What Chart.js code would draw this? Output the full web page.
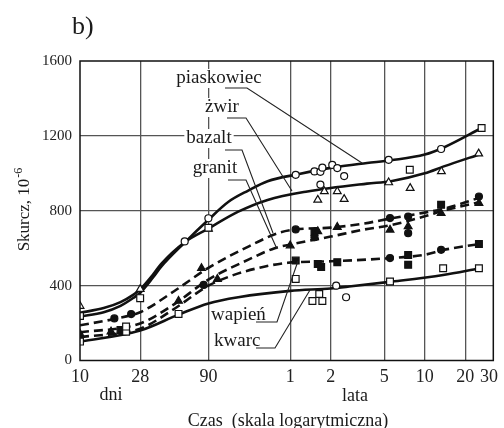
<!DOCTYPE html>
<html>
<head>
<meta charset="utf-8">
<script src="https://cdn.jsdelivr.net/npm/chart.js@4.4.1/dist/chart.umd.min.js"></script>
<style>
  html, body { margin: 0; padding: 0; background: #fff; }
  #wrap { width: 504px; height: 428px; }
</style>
</head>
<body>
<div id="wrap"><canvas id="wykres" width="504" height="428"></canvas></div>
<script>
// os x - czas w dniach (skala log), os y - skurcz w 10^-6
const tickDays = [10, 28, 90, 365, 730, 1825, 3650, 7300, 10950];
const tickLabels = ['10', '28', '90', '1', '2', '5', '10', '20', '30'];
const yTicks = [0, 400, 800, 1200, 1600];

// krzywe [dni, skurcz]
const piaskowiecLinia = [[10,235],[15,258],[20,292],[25,335],[28,362],[35,445],[40,500],[60,630],[90,752],[127,848],[178,908],[248,958],[417,995],[787,1033],[1360,1055],[2046,1070],[3650,1100],[5058,1138],[9660,1242]];
const zwirLinia = [[10,255],[15,280],[20,312],[25,352],[28,380],[35,460],[40,515],[60,632],[90,705],[150,795],[248,858],[490,903],[1360,945],[2046,958],[3650,1000],[5058,1037],[9660,1105]];
const bazaltLinia = [[10,188],[18,222],[28,258],[50,370],[90,495],[180,610],[300,682],[400,700],[730,710],[1300,732],[2000,758],[3650,790],[5000,810],[9200,868]];
const granitLinia = [[10,150],[28,198],[50,300],[90,432],[180,540],[280,600],[400,625],[730,662],[1300,700],[2000,722],[3650,770],[5000,800],[9200,845]];
const wapienLinia = [[10,125],[28,170],[50,275],[90,400],[133,452],[200,490],[350,522],[730,530],[1825,545],[3650,565],[5000,590],[9200,622]];
const kwarcLinia = [[10,100],[28,160],[54,245],[90,305],[150,338],[365,372],[730,385],[1000,395],[2000,420],[5000,457],[9200,492]];

// punkty pomiarowe wg rodzaju znacznika
const kolkaOtwarte = [[60,636],[90,760],[401,992],[553,1010],[612,1008],[633,1030],[612,940],[750,1045],[817,1028],[919,985],[802,400],[950,338],[1968,1072],[4830,1130]];
const kwadratyOtwarte = [[10,238],[10,101],[22,154],[22,181],[28,333],[54,249],[90,709],[401,436],[534,318],[633,318],[600,355],[2014,422],[2826,1019],[5000,493],[9226,493],[9660,1242]];
const trojkatyOtwarte = [[10,291],[28,381],[90,703],[585,858],[655,903],[817,903],[919,862],[1968,951],[2844,921],[4853,1010],[9183,1105]];
const kolkaPelne = [[18,225],[24,248],[83,404],[401,700],[553,659],[2014,761],[2014,547],[2748,769],[2748,680],[4830,591],[9226,876]];
const trojkatyPelne = [[10,142],[17,154],[54,318],[80,493],[105,435],[365,614],[585,690],[817,713],[2014,698],[2748,716],[4830,787],[9226,841]];
const kwadratyPelne = [[20,163],[401,534],[553,686],[585,516],[620,499],[817,525],[2748,564],[2748,511],[4830,832],[9226,622]];

const FONT = "'Liberation Serif', 'Times New Roman', serif";
Chart.defaults.font.family = FONT;

const toXY = arr => arr.map(p => ({ x: p[0], y: p[1] }));

function linia(dane, przerywana) {
    return {
        data: toXY(dane),
        showLine: true,
        borderColor: '#111',
        borderWidth: 2.6,
        borderDash: przerywana ? [9, 5] : [],
        pointRadius: 0,
        cubicInterpolationMode: 'monotone',
        fill: false,
        order: 2
    };
}

function znaczniki(dane, styl, pelny, r) {
    return {
        data: toXY(dane),
        showLine: false,
        pointStyle: styl,
        pointRadius: r,
        pointBackgroundColor: pelny ? '#111' : '#fff',
        pointBorderColor: '#111',
        pointBorderWidth: 1.2,
        order: 1
    };
}

//podpisy, ramka itd.
const napisy = {
    id: 'napisy',
    afterDraw(chart) {
        const c = chart.ctx;
        const a = chart.chartArea;
        c.save();
        c.strokeStyle = '#111';
        c.lineWidth = 1.5;
        c.strokeRect(a.left, a.top, a.right - a.left, a.bottom - a.top);

        c.fillStyle = '#1a1a1a';
        c.textBaseline = 'alphabetic';
        c.font = '26px ' + FONT;
        c.textAlign = 'left';
        c.fillText('b)', 72, 34);

        c.textAlign = 'center';
        c.font = '18px ' + FONT;
        c.fillText('dni', 111, 400);
        c.fillText('lata', 355, 401);
        c.fillText('Czas  (skala logarytmiczna)', 288, 426);

        // tytul osi y
        c.save();
        c.translate(29, 210);
        c.rotate(-Math.PI / 2);
        c.textAlign = 'left';
        c.font = '17px ' + FONT;
        const t = 'Skurcz, 10';
        const w = c.measureText(t).width;
        c.font = '12px ' + FONT;
        const w2 = c.measureText('-6').width;
        const start = -(w + w2) / 2;
        c.font = '17px ' + FONT;
        c.fillText(t, start, 0);
        c.font = '12px ' + FONT;
        c.fillText('-6', start + w + 1, -7);
        c.restore();

        // etykiety krzywych
        const etykiety = [
            ['piaskowiec', 219, 83],
            ['żwir', 222, 112],
            ['bazalt', 209, 143],
            ['granit', 215, 173]
        ];
        c.font = '19px ' + FONT;
        etykiety.forEach(e => {
            const tw = c.measureText(e[0]).width;
            c.fillStyle = '#fff';
            c.fillRect(e[1] - tw / 2 - 2, e[2] - 14, tw + 4, 19);
            c.fillStyle = '#1a1a1a';
            c.fillText(e[0], e[1], e[2]);
        });
        c.textAlign = 'left';
        c.fillText('wapień', 211, 320);
        c.fillText('kwarc', 214, 346);

        const odnosniki = [
            [[225, 88], [247, 88], [362, 163]],
            [[227, 118], [246, 118], [292, 191]],
            [[225, 150], [242, 150], [273, 233]],
            [[228, 180], [246, 180], [277, 249]],
            [[256, 322], [277, 322], [298, 261]],
            [[256, 348], [275, 348], [310, 290]]
        ];
        c.strokeStyle = '#222';
        c.lineWidth = 1.1;
        odnosniki.forEach(o => {
            c.beginPath();
            c.moveTo(o[0][0], o[0][1]);
            for (let i = 1; i < o.length; i++) c.lineTo(o[i][0], o[i][1]);
            c.stroke();
        });
        c.restore();
    }
};

const ctxWykres = document.getElementById('wykres');

let wykres = new Chart(ctxWykres, {
    type: 'scatter',
    data: {
        datasets: [
            linia(piaskowiecLinia, false),
            linia(zwirLinia, false),
            linia(bazaltLinia, true),
            linia(granitLinia, true),
            linia(wapienLinia, true),
            linia(kwarcLinia, false),
            znaczniki(kolkaOtwarte, 'circle', false, 3.5),
            znaczniki(kwadratyOtwarte, 'rect', false, 4.8),
            znaczniki(trojkatyOtwarte, 'triangle', false, 4.5),
            znaczniki(kolkaPelne, 'circle', true, 3.5),
            znaczniki(trojkatyPelne, 'triangle', true, 4.5),
            znaczniki(kwadratyPelne, 'rect', true, 4.8)
        ]
    },
    options: {
        responsive: false,
        animation: false,
        devicePixelRatio: 1,
        events: [],
        layout: { padding: { top: 61, right: 6, bottom: 0, left: 0 } },
        plugins: { legend: { display: false }, tooltip: { enabled: false } },
        scales: {
            x: {
                type: 'logarithmic',
                min: 10,
                max: 11800,
                afterBuildTicks: s => { s.ticks = tickDays.map(v => ({ value: v })); },
                afterFit: s => { s.height = 67.5; },
                border: { display: false },
                grid: {
                    drawTicks: false,
                    lineWidth: 1.3,
                    color: ctx => (ctx.tick && (ctx.tick.value === 10 || ctx.tick.value === 10950)) ? 'rgba(0,0,0,0)' : '#555'
                },
                ticks: {
                    autoSkip: false,
                    maxRotation: 0,
                    padding: 6,
                    color: '#222',
                    font: { size: 18 },
                    callback: (v, i) => tickLabels[i]
                }
            },
            y: {
                min: 0,
                max: 1600,
                afterBuildTicks: s => { s.ticks = yTicks.map(v => ({ value: v })); },
                afterFit: s => { s.width = 80; },
                border: { display: false },
                grid: {
                    drawTicks: false,
                    lineWidth: 1.3,
                    color: ctx => (ctx.tick && (ctx.tick.value === 0 || ctx.tick.value === 1600)) ? 'rgba(0,0,0,0)' : '#555'
                },
                ticks: {
                    padding: 8,
                    color: '#222',
                    font: { size: 15 },
                    callback: v => String(v)
                }
            }
        }
    },
    plugins: [napisy]
});
</script>
</body>
</html>
